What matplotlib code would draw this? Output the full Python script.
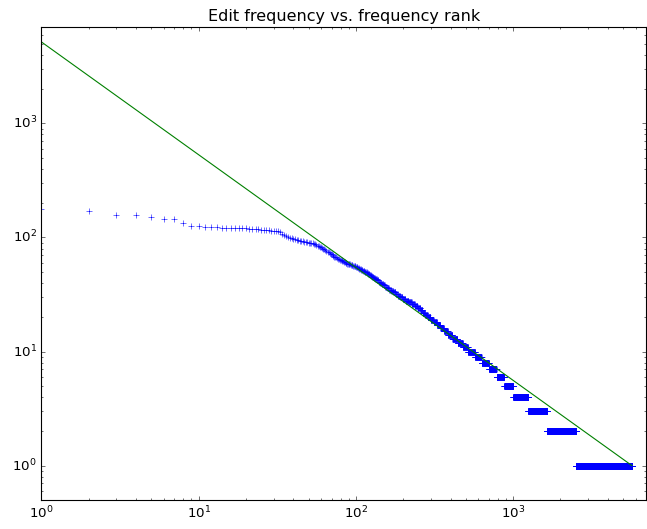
import matplotlib
matplotlib.use('Agg')
import matplotlib.pyplot as plt
import numpy as np

# edit counts of the most edited items, in rank order (freq >= 50)
head_freqs = [176, 169, 158, 158, 151, 145, 145, 135, 127, 126,
              124, 123, 123, 122, 122, 121, 121, 120, 120, 120,
              119, 119, 118, 118, 117, 117, 116, 116, 115, 115,
              114, 113, 111, 108, 106, 103, 101, 99, 98, 97,
              97, 96, 95, 94, 93, 93, 92, 91, 91, 90,
              90, 89, 89, 88, 87, 86, 85, 84, 83, 82,
              81, 80, 79, 78, 76, 75, 74, 73, 72, 71,
              70, 69, 68, 67, 67, 66, 65, 65, 64, 63,
              63, 62, 62, 61, 61, 60, 60, 59, 59, 58,
              58, 58, 57, 57, 57, 56, 56, 56, 56, 55,
              55, 55, 54, 54, 53, 53, 53, 52, 52, 52,
              51, 51, 51, 50, 50, 50, 50]

# lower frequencies: how many items have each edit count
tail_values = [49, 48, 47, 46, 45, 44, 43, 42, 41, 40,
               39, 38, 37, 36, 35, 34, 33, 32, 31, 30,
               29, 28, 27, 26, 25, 24, 23, 22, 21, 20,
               19, 18, 17, 16, 15, 14, 13, 12, 11, 10,
               9, 8, 7, 6, 5, 4, 3, 2, 1]
tail_counts = [2, 3, 2, 2, 3, 3, 4, 3, 3, 3,
               4, 4, 4, 5, 5, 5, 6, 6, 7, 6,
               9, 10, 10, 10, 10, 10, 9, 10, 11, 12,
               14, 15, 17, 18, 22, 26, 32, 36, 37, 56,
               59, 71, 83, 93, 123, 245, 396, 866, 3195]

# power law reference line (end points)
fit_x = [1, 5702]
fit_y = [5176, 1.0]

freqs = np.concatenate([head_freqs, np.repeat(tail_values, tail_counts)])
ranks = np.arange(1, len(freqs) + 1)

plt.style.use('classic')
plt.rcParams['figure.facecolor'] = 'white'
plt.rcParams['mathtext.fontset'] = 'dejavusans'
plt.rcParams['mathtext.default'] = 'regular'

fig = plt.figure(figsize=(647 / 80, 529 / 80), dpi=80)
ax = fig.add_axes([0.064, 0.0548, 0.9345, 0.8942])
ax.loglog(ranks, freqs, 'b+')
ax.loglog(fit_x, fit_y, 'g-')
ax.set_xlim(1, 7000)
ax.set_ylim(0.5, 7000)
ax.set_title('Edit frequency vs. frequency rank')

fig.savefig('out.png', dpi=80, facecolor='white')
